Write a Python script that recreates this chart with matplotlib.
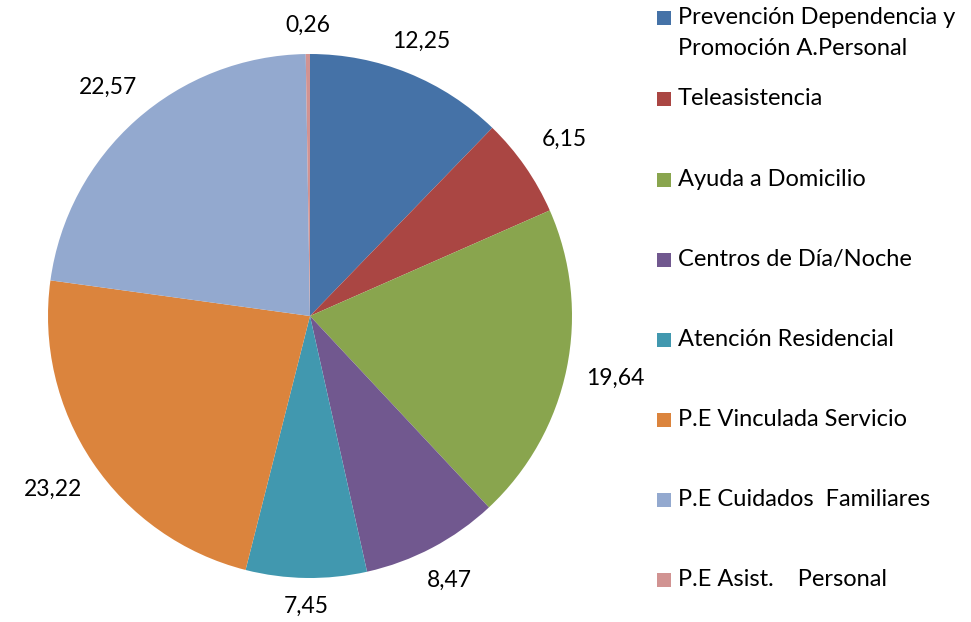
import numpy as np
import matplotlib.pyplot as plt
from matplotlib.patches import Rectangle

plt.rcParams['font.family'] = ['Lato', 'DejaVu Sans']

# datos del gráfico
categorias = ['Prevención Dependencia y\nPromoción A.Personal', 'Teleasistencia',
              'Ayuda a Domicilio', 'Centros de Día/Noche', 'Atención Residencial',
              'P.E Vinculada Servicio', 'P.E Cuidados  Familiares', 'P.E Asist.    Personal']
valores = [12.25, 6.15, 19.64, 8.47, 7.45, 23.22, 22.57, 0.26]
etiquetas = ['12,25', '6,15', '19,64', '8,47', '7,45', '23,22', '22,57', '0,26']
colores = ['#4572A7', '#AA4643', '#89A54E', '#71588F', '#4198AF', '#DB843D', '#93A9CF', '#D19392']

W, H = 971, 622
fig = plt.figure(figsize=(W / 100, H / 100), dpi=100)

# centro (310, 316) px, radio 262 px
cx, cy, r = 310, H - 316, 262
ax = fig.add_axes([(cx - 1.25 * r) / W, (cy - 1.25 * r) / H, 2.5 * r / W, 2.5 * r / H])
wedges, texts = ax.pie(valores, colors=colores, startangle=90, counterclock=False,
                       labels=etiquetas, labeldistance=1.18,
                       textprops={'fontsize': 16.5})
for t in texts:
    t.set_horizontalalignment('center')
    t.set_verticalalignment('center')
    x, y = t.get_position()
    # las etiquetas arriba/abajo van mas cerca del borde
    d = np.hypot(x, y)
    f = 1.19 - 0.08 * abs(y / d) ** 4
    t.set_position((x / d * f, y / d * f))
ax.set_xlim(-1.25, 1.25)
ax.set_ylim(-1.25, 1.25)
ax.set_aspect('equal')

# leyenda manual
ys = [18, 99, 180, 260, 340, 420, 500, 580]
for cat, col, y in zip(categorias, colores, ys):
    fig.patches.append(Rectangle((657 / W, (H - y - 7) / H), 14 / W, 14 / H,
                                 transform=fig.transFigure, facecolor=col, edgecolor='none'))
    fig.text(678 / W, (H - y + 11) / H, cat, fontsize=17, va='top', ha='left',
             linespacing=1.6)

fig.savefig('out.png', dpi=100)
